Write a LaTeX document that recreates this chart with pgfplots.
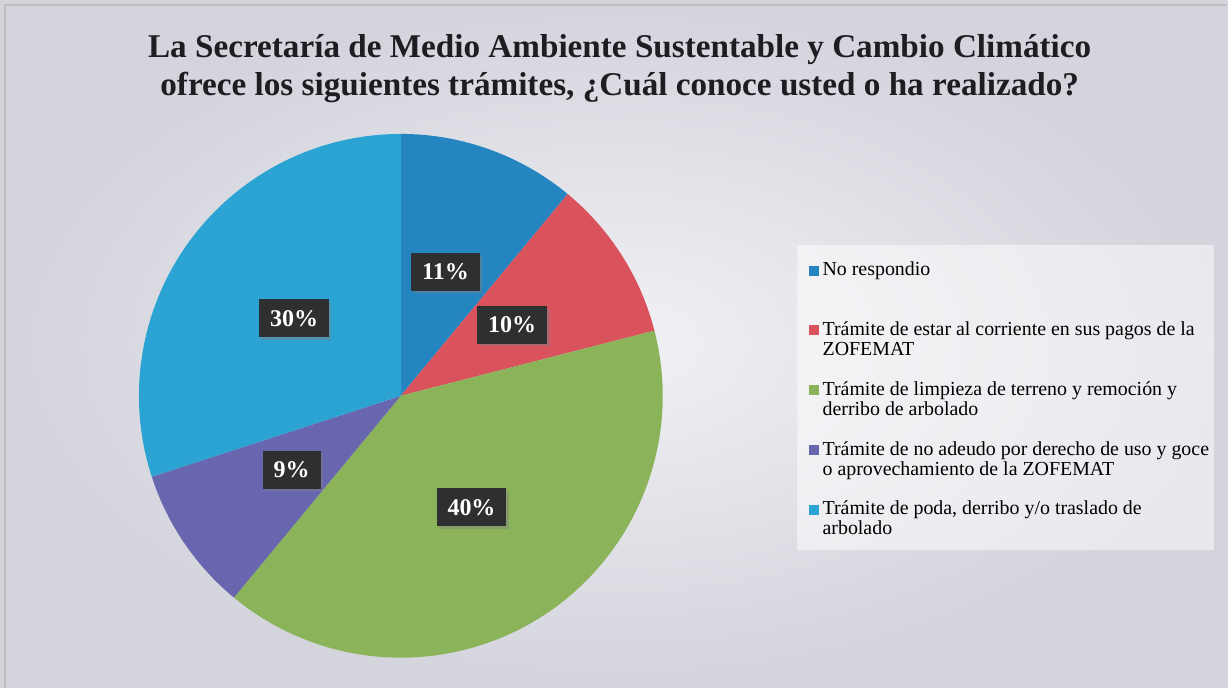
\documentclass[border=0pt]{standalone}
\usepackage{fontspec}
\setmainfont{Liberation Serif}
\usepackage{pgfplots}
\pgfplotsset{compat=1.18}
\usepackage{pgfplotstable}
\usetikzlibrary{shadows}

\definecolor{c0}{HTML}{2485C1}
\definecolor{c1}{HTML}{D9525C}
\definecolor{c2}{HTML}{8BB45A}
\definecolor{c3}{HTML}{6866AE}
\definecolor{c4}{HTML}{2BA4D4}
\definecolor{bgout}{HTML}{D3D4DC}
\definecolor{bgin}{HTML}{F1F1F5}
\definecolor{lblbg}{HTML}{2E2F30}
\definecolor{titlec}{HTML}{1E1E22}

% share of each answer, clockwise from 12 o'clock
\pgfplotstableread{
pct
11
10
40
9
30
}\pietable

% start, end and middle angle of every slice
\def\acc{0}
\pgfplotsforeachungrouped \i in {0,...,4}{%
  \pgfplotstablegetelem{\i}{pct}\of\pietable
  \expandafter\xdef\csname v\i\endcsname{\pgfplotsretval}%
  \pgfmathsetmacro\sa{90-3.6*\acc}%
  \pgfmathsetmacro\newacc{\acc+\csname v\i\endcsname}%
  \pgfmathsetmacro\ea{90-3.6*\newacc}%
  \pgfmathsetmacro\ma{(\sa+\ea)/2}%
  \expandafter\xdef\csname s\i\endcsname{\sa}%
  \expandafter\xdef\csname e\i\endcsname{\ea}%
  \expandafter\xdef\csname m\i\endcsname{\ma}%
  \xdef\acc{\newacc}%
}

% every legend entry has two lines and sits on its last one: square goes by the first
\pgfplotsset{sq/.style={legend image code/.code={\fill[##1] (0pt,10pt) rectangle (5pt,15pt);}}}

\begin{document}
\begin{tikzpicture}
\begin{axis}[
  hide axis, scale only axis,
  x=0.5pt, y=0.5pt,
  xmin=0, xmax=1228, ymin=0, ymax=688, y dir=reverse,
  clip=false,
  legend style={
    at={(axis description cs:0.6588,0.6192)}, anchor=north west,
    draw=none, fill=none, inner sep=0pt, outer sep=0pt,
    font=\fontsize{9.95}{10}\selectfont,
    cells={anchor=base west, align=left},
    nodes={inner sep=0pt},
    row sep=11.5pt, column sep=2pt,
  },
]
% scanned page background
\shade[inner color=bgin, outer color=bgout] (axis cs:0,0) rectangle (axis cs:1228,688);
\draw[gray!50, line width=0.6pt] (axis cs:5,688) -- (axis cs:5,5) -- (axis cs:1228,5);

% title
\node[anchor=base, inner sep=0pt, text=titlec, font=\bfseries\fontsize{16.6}{19}\selectfont]
  at (axis cs:620,58) {La Secretaría de Medio Ambiente Sustentable y Cambio Climático};
\node[anchor=base, inner sep=0pt, text=titlec, font=\bfseries\fontsize{16.6}{19}\selectfont]
  at (axis cs:620,96) {ofrece los siguientes trámites, ¿Cuál conoce usted o ha realizado?};

% slices
\pgfplotsinvokeforeach{0,...,4}{
  \fill[c#1] (axis cs:401,396) -- ++(\csname s#1\endcsname:131pt)
    arc[start angle=\csname s#1\endcsname, end angle=\csname e#1\endcsname, radius=131pt] -- cycle;
}
% data labels
\pgfplotsinvokeforeach{0,...,4}{
  \path (axis cs:401,396) ++(\csname m#1\endcsname:66pt)
    node[fill=lblbg, text=white, font=\bfseries\fontsize{12}{12}\selectfont,
         inner xsep=5.5pt, minimum height=19pt,
         drop shadow={opacity=0.45, shadow xshift=1.2pt, shadow yshift=-1.2pt}]
    {\csname v#1\endcsname\%};
}

% legend panel
\fill[white, opacity=0.5] (axis cs:797,245) rectangle (axis cs:1215,550);

\addlegendimage{sq, fill=c0, draw=none}
\addlegendentry{No respondio\\\strut}
\addlegendimage{sq, fill=c1, draw=none}
\addlegendentry{Trámite de estar al corriente en sus pagos de la\\ZOFEMAT\strut}
\addlegendimage{sq, fill=c2, draw=none}
\addlegendentry{Trámite de limpieza de terreno y remoción y\\derribo de arbolado\strut}
\addlegendimage{sq, fill=c3, draw=none}
\addlegendentry{Trámite de no adeudo por derecho de uso y goce\\o aprovechamiento de la ZOFEMAT\strut}
\addlegendimage{sq, fill=c4, draw=none}
\addlegendentry{Trámite de poda, derribo y/o traslado de\\arbolado\strut}
\end{axis}
\end{tikzpicture}
\end{document}
